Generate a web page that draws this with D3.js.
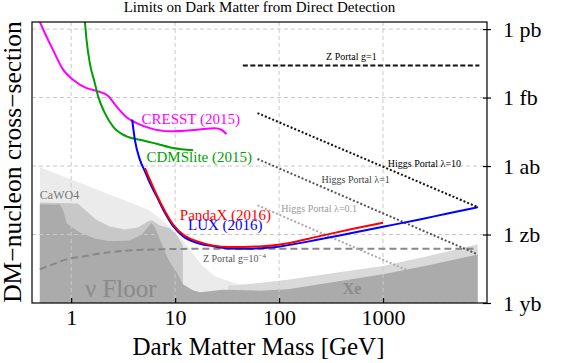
<!DOCTYPE html>
<html>
<head>
<meta charset="utf-8">
<script src="https://cdn.jsdelivr.net/npm/d3@7"></script>
<style>
body { margin: 0; background: white; }
svg text { font-family: "Liberation Serif", "DejaVu Serif", serif; }
</style>
</head>
<body>
<svg id="chart" width="576" height="363"></svg>
<script>
// masses in GeV, cross sections as log10(sigma / cm^2)
var massTicks = [1, 10, 100, 1000];
var sigmaTicks = [-36, -39, -42, -45, -48];
var sigmaTickLabels = ["1 pb", "1 fb", "1 ab", "1 zb", "1 yb"];

var cresstMass = [0.484, 0.50, 0.67, 0.84, 1.05, 1.41, 1.76, 2.27, 2.73, 3.41, 4.26, 5.71, 8.89, 16.1, 24.1, 27.9, 31.2];
var cresstSigma = [-35.52, -35.68, -36.92, -37.79, -38.23, -38.59, -38.71, -38.93, -39.39, -39.86, -40.12, -40.34, -40.48, -40.41, -40.34, -40.41, -40.60];

var cdmsMass = [1.342, 1.355, 1.406, 1.513, 1.69, 1.82, 2.11, 2.53, 3.41, 4.58, 6.63, 9.57, 14.9];
var cdmsSigma = [-35.50, -35.68, -36.48, -37.50, -38.37, -38.96, -39.68, -40.27, -40.70, -40.85, -41.02, -41.21, -41.31];

var luxMass = [3.86, 4.10, 4.58, 5.12, 5.71, 6.63, 7.67, 9.57, 11.9, 16.1, 23.2, 33.6, 48.6, 81.5, 101.6, 246, 515, 1000, 2254, 4070, 8190];
var luxSigma = [-39.97, -40.85, -41.72, -42.23, -42.74, -43.32, -43.90, -44.63, -45.07, -45.36, -45.51, -45.61, -45.62, -45.57, -45.52, -45.21, -44.92, -44.66, -44.34, -44.09, -43.80];

var pandaxMass = [5.12, 6.63, 9.57, 16.1, 33.6, 70.2, 118, 246, 515, 1000];
var pandaxSigma = [-42.09, -43.25, -44.56, -45.29, -45.55, -45.51, -45.39, -45.07, -44.75, -44.48];

var zPortal1Mass = [44.8, 8450];
var zPortal1Sigma = [-37.60, -37.60];

var zPortal4Mass = [0.5, 0.667, 0.903, 1.30, 1.89, 2.75, 3.95, 6.82, 11.9, 52, 7950];
var zPortal4Sigma = [-46.52, -46.31, -46.09, -45.96, -45.83, -45.74, -45.69, -45.65, -45.63, -45.62, -45.62];

var higgsMass = [62, 8150];
var higgs10Sigma = [-39.68, -43.80];
var higgs1Sigma = [-41.69, -45.87];
var higgs01Sigma = [-43.72, -47.91];

// neutrino floor bands (upper edge of each shaded region)
var floorOuterMass = [0.5, 5.46, 7.13, 9.29, 11.9, 14.8, 18.1, 24.1, 37.5, 58.4];
var floorOuterSigma = [-42.05, -43.90, -44.30, -44.73, -45.26, -45.83, -46.35, -46.83, -47.14, -47.24];

var xeOuterMass = [32.4, 41.9, 121, 351, 1000, 2810, 8140];
var xeOuterSigma = [-47.24, -47.21, -46.98, -46.68, -46.38, -45.93, -45.43];

var cawoMidMass = [0.5, 1.16, 1.38, 1.73, 2.36, 3.28, 4.38, 5.46, 5.97, 7.13, 8.89, 10.4, 11.9];
var cawoMidSigma = [-43.60, -43.64, -43.95, -44.34, -44.65, -44.78, -44.69, -44.43, -44.38, -44.60, -44.73, -45.04, -45.48];

var floorInnerMass = [0.5, 0.778, 0.832, 0.909, 1.21, 1.69, 2.36, 3.66, 4.79, 5.46, 5.93, 6.38, 7.13, 7.96, 8.89, 10.4, 11.9, 14.8, 17.3, 28.8, 65.2, 121, 351, 1000, 2810, 8140];
var floorInnerSigma = [-43.69, -43.69, -43.90, -44.52, -44.91, -45.17, -45.30, -45.26, -45.00, -44.69, -44.49, -44.69, -45.21, -45.74, -46.22, -46.66, -47.18, -47.44, -47.53, -47.42, -47.46, -47.40, -47.07, -46.74, -46.33, -45.87];

function draw() {
    var svg = d3.select("#chart");
    var pLeft = 32, pRight = 487, pTop = 22, pBottom = 303;

    var x = d3.scaleLog().domain([0.42, 1e4]).range([pLeft, pRight]);
    var y = d3.scaleLinear().domain([-48, -35.69]).range([pBottom, pTop]);

    svg.append("clipPath").attr("id", "plot")
        .append("rect").attr("x", pLeft).attr("y", pTop)
        .attr("width", pRight - pLeft).attr("height", pBottom - pTop);

    var plot = svg.append("g").attr("clip-path", "url(#plot)");

    function pts(ms, ss) {
        return ms.map(function (m, i) { return [m, ss[i]]; });
    }

    function band(ms, ss, color) {
        var area = d3.area()
            .x(function (d) { return x(d[0]); })
            .y0(y(-48))
            .y1(function (d) { return y(d[1]); });
        plot.append("path").attr("d", area(pts(ms, ss))).attr("fill", color);
    }

    band(floorOuterMass, floorOuterSigma, "#ebebeb");
    band(xeOuterMass, xeOuterSigma, "#d9d9d9");
    band(cawoMidMass, cawoMidSigma, "#c8c8c8");
    band(floorInnerMass, floorInnerSigma, "#ababab");

    // grid
    plot.selectAll(".vgrid").data(massTicks).enter().append("line")
        .attr("x1", x).attr("x2", x).attr("y1", pTop).attr("y2", pBottom)
        .attr("stroke", "#c8c8c8").attr("stroke-dasharray", "4,3");
    plot.selectAll(".hgrid").data(sigmaTicks).enter().append("line")
        .attr("y1", y).attr("y2", y).attr("x1", pLeft).attr("x2", pRight)
        .attr("stroke", "#c8c8c8").attr("stroke-dasharray", "4,3");

    function curve(ms, ss, color, dash, smooth) {
        var line = d3.line()
            .x(function (d) { return x(d[0]); })
            .y(function (d) { return y(d[1]); })
            .curve(smooth ? d3.curveMonotoneX : d3.curveLinear);
        plot.append("path").attr("d", line(pts(ms, ss)))
            .attr("fill", "none").attr("stroke", color).attr("stroke-width", 2)
            .attr("stroke-dasharray", dash || null);
    }

    curve(zPortal4Mass, zPortal4Sigma, "#888", "7,4", true);
    curve(higgsMass, higgs01Sigma, "#aaa", "2,2");
    curve(higgsMass, higgs1Sigma, "#555", "2,2");
    curve(higgsMass, higgs10Sigma, "#111", "2,2");
    curve(zPortal1Mass, zPortal1Sigma, "#111", "5,2.5");
    curve(cresstMass, cresstSigma, "#ff00ff", null, true);
    curve(cdmsMass, cdmsSigma, "#00a000", null, true);
    curve(luxMass, luxSigma, "#0000ff", null, true);
    curve(pandaxMass, pandaxSigma, "#ff0000", null, true);

    function label(m, s, text, size, color, weight) {
        return svg.append("text").attr("x", x(m)).attr("y", y(s))
            .attr("font-size", size).attr("fill", color)
            .attr("font-weight", weight || null).text(text);
    }

    label(4.75, -40.15, "CRESST (2015)", 15, "#ff00ff");
    label(5.31, -41.84, "CDMSlite (2015)", 15, "#00a000");
    label(11.1, -44.36, "PandaX (2016)", 15, "#ff0000");
    label(13.3, -44.80, "LUX (2016)", 15, "#0000ff");
    label(283, -37.35, "Z Portal g=1", 10, "#000");
    label(1110, -42.04, "Higgs Portal \u03bb=10", 10, "#000");
    label(256, -42.74, "Higgs Portal \u03bb=1", 10, "#444");
    label(105, -44.02, "Higgs Portal \u03bb=0.1", 10, "#999");
    var zl = label(18.5, -46.20, "Z Portal g=10", 10, "#555");
    zl.append("tspan").attr("dy", -4).attr("font-size", 7).text("\u22124");
    label(0.5, -43.45, "CaWO4", 12, "#777");
    label(1.355, -47.75, "\u03bd Floor", 25, "#8a8a8a");
    label(410, -47.62, "Xe", 16, "#8a8a8a", "bold");

    // frame and axes
    svg.append("rect").attr("x", pLeft).attr("y", pTop)
        .attr("width", pRight - pLeft).attr("height", pBottom - pTop)
        .attr("fill", "none").attr("stroke", "#000").attr("stroke-width", 1.2);

    var xAxis = svg.append("g").attr("transform", `translate(0,${pBottom})`)
        .call(d3.axisBottom(x).tickValues(massTicks).tickFormat(d3.format("d"))
            .tickSizeInner(-5).tickSizeOuter(0).tickPadding(6));
    var yAxis = svg.append("g").attr("transform", `translate(${pRight - 4},0)`)
        .call(d3.axisRight(y).tickValues(sigmaTicks)
            .tickFormat(function (d, i) { return sigmaTickLabels[i]; })
            .tickSize(8).tickPadding(12));

    [xAxis, yAxis].forEach(function (g) {
        g.select(".domain").remove();
        g.selectAll("line").attr("stroke", "#000").attr("stroke-width", 1.2);
        g.selectAll("text").attr("font-size", 22).attr("fill", "#000");
    });

    svg.append("text").attr("x", (pLeft + pRight) / 2).attr("y", 12)
        .attr("text-anchor", "middle").attr("font-size", 15)
        .text("Limits on Dark Matter from Direct Detection");

    svg.append("text").attr("x", (pLeft + pRight) / 2 - 1).attr("y", 355)
        .attr("text-anchor", "middle").attr("font-size", 25)
        .text("Dark Matter Mass [GeV]");

    svg.append("text").attr("transform", "translate(21,162) rotate(-90)")
        .attr("text-anchor", "middle").attr("font-size", 25.5)
        .text("DM\u2212nucleon cross\u2212section");
}

draw();
</script>
</body>
</html>
